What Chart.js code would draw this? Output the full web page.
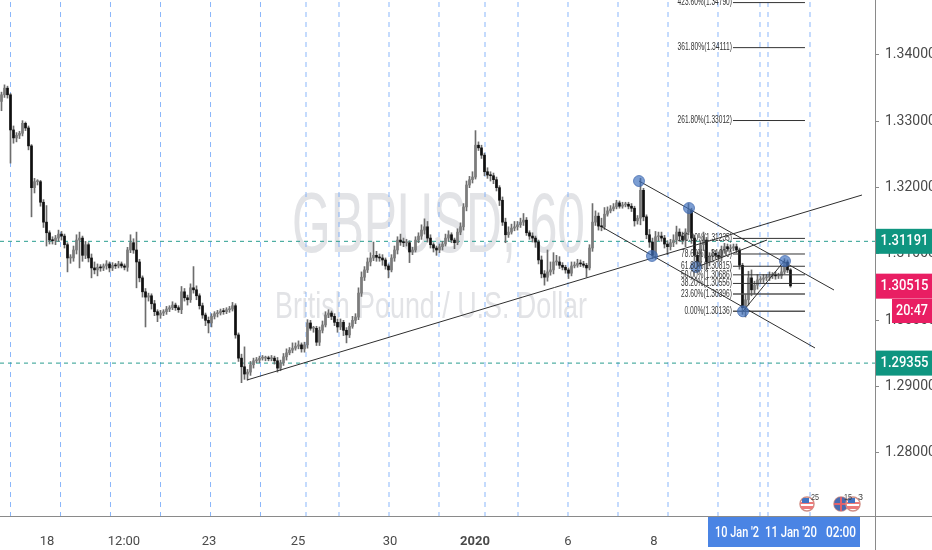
<!DOCTYPE html>
<html>
<head>
<meta charset="utf-8">
<title>GBPUSD, 60</title>
<script src="https://cdn.jsdelivr.net/npm/chart.js@4"></script>
<style>
  html, body { margin: 0; padding: 0; background: #fff; }
  canvas { display: block; }
</style>
</head>
<body>
<canvas id="chart" width="932" height="550"></canvas>
<script>
// Hourly closes
const closes = [
  1.3340,1.3350,1.3340,1.3287,1.3275,1.3279,1.3282,1.3297,1.3290,1.3263,
  1.3200,1.3209,1.3209,1.3178,1.3148,1.3132,1.3121,1.3120,1.3124,1.3130,
  1.3127,1.3114,1.3094,1.3094,1.3106,1.3121,1.3124,1.3098,1.3114,1.3094,
  1.3079,1.3076,1.3080,1.3079,1.3082,1.3085,1.3079,1.3083,1.3082,1.3085,
  1.3082,1.3080,1.3106,1.3117,1.3106,1.3088,1.3064,1.3043,1.3035,1.3037,
  1.3025,1.3013,1.3008,1.3011,1.3013,1.3017,1.3019,1.3023,1.3019,1.3016,
  1.3043,1.3034,1.3031,1.3049,1.3046,1.3037,1.3022,1.3008,1.3000,1.2996,
  1.3006,1.3010,1.3011,1.3014,1.3013,1.3016,1.3017,1.3022,1.2978,1.2943,
  1.2930,1.2919,1.2922,1.2933,1.2939,1.2940,1.2943,1.2943,1.2943,1.2942,
  1.2943,1.2939,1.2928,1.2936,1.2945,1.2951,1.2955,1.2958,1.2961,1.2963,
  1.2957,1.2963,1.2996,1.2988,1.2988,1.2967,1.2985,1.2993,1.3008,1.3011,
  1.3006,1.2997,1.2990,1.2997,1.2985,1.2978,1.2991,1.3000,1.3005,1.3041,
  1.3065,1.3076,1.3088,1.3094,1.3098,1.3095,1.3094,1.3091,1.3082,1.3076,
  1.3094,1.3106,1.3121,1.3118,1.3117,1.3117,1.3103,1.3106,1.3121,1.3127,
  1.3136,1.3141,1.3124,1.3114,1.3109,1.3106,1.3111,1.3115,1.3124,1.3129,
  1.3121,1.3117,1.3133,1.3141,1.3171,1.3204,1.3212,1.3216,1.3264,1.3260,
  1.3249,1.3224,1.3219,1.3218,1.3212,1.3200,1.3181,1.3148,1.3129,1.3133,
  1.3139,1.3141,1.3144,1.3148,1.3151,1.3132,1.3127,1.3124,1.3118,1.3091,
  1.3070,1.3065,1.3073,1.3076,1.3088,1.3088,1.3083,1.3080,1.3076,1.3071,
  1.3082,1.3083,1.3086,1.3085,1.3083,1.3079,1.3109,1.3148,1.3157,1.3142,
  1.3141,1.3160,1.3165,1.3168,1.3171,1.3177,1.3172,1.3174,1.3175,1.3172,
  1.3169,1.3150,1.3154,1.3196,1.3156,1.3129,1.3118,1.3098,1.3126,1.3127,
  1.3124,1.3115,1.3111,1.3117,1.3121,1.3133,1.3127,1.3121,1.3133,1.3166,
  1.3124,1.3098,1.3088,1.3114,1.3121,1.3088,1.3097,1.3101,1.3098,1.3095,
  1.3106,1.3111,1.3108,1.3109,1.3111,1.3106,1.3083,1.3019,1.3031,1.3064,
  1.3046,1.3053,1.3061,1.3062,1.3064,1.3065,1.3067,1.3068,1.3067,1.3067,
  1.3073,1.3088,1.3076,1.3052
];
// Wick lengths in pips above / below each body
const upperWicks = [
  4,5,3,2,6,4,3,4,2,3, 2,5,3,2,4,25,3,5,4,6, 4,3,3,5,6,8,9,3,5,3, 6,9,5,4,3,5,3,4,3,4,
  3,3,4,12,6,27,4,3,5,4, 3,5,3,4,3,4,3,5,3,3, 8,5,4,6,32,6,3,4,3,5, 4,3,4,3,4,3,4,5,3,3,
  6,30,4,5,4,4,3,4,3,3, 4,3,5,4,5,6,4,8,5,6, 3,4,5,4,3,3,5,6,5,5, 3,4,5,5,3,4,5,6,5,8,
  8,5,6,8,20,6,5,5,3,3, 5,6,5,9,6,5,3,4,5,5, 8,12,8,5,3,3,4,4,6,6, 3,3,5,6,5,6,5,8,22,5,
  4,3,6,5,4,4,3,5,6,8, 6,8,5,6,10,4,3,5,3,3, 6,5,33,12,14,10,8,4,3,3, 6,5,6,5,4,3,5,28,8,5,
  12,10,6,5,5,4,3,4,3,3, 4,3,4,18,3,3,8,6,8,6, 6,4,5,5,8,9,5,6,5,10, 3,4,5,6,12,4,5,6,4,5,
  6,5,4,5,4,4,3,3,8,10, 12,6,8,4,5,4,6,4,5,4, 8,5,3,2
];
const lowerWicks = [
  14,4,5,50,8,6,5,4,4,6, 44,8,5,6,8,20,6,5,6,5, 6,5,21,8,5,6,42,9,5,6, 15,6,9,5,4,5,6,4,4,3,
  3,4,6,4,5,39,6,8,45,6, 8,6,10,5,4,4,4,3,4,4, 6,5,8,4,5,6,5,5,8,15, 6,4,5,3,4,3,4,3,5,5,
  24,8,9,5,5,3,4,3,4,3, 3,5,6,4,4,5,3,4,3,4, 5,5,5,3,6,5,5,4,3,4, 5,5,8,4,8,12,4,3,5,4,
  5,5,4,6,4,6,5,8,5,12, 3,5,6,5,6,5,16,4,3,4, 5,6,6,5,6,8,4,5,3,5, 4,9,3,4,5,6,4,5,3,4,
  5,6,5,8,6,5,8,5,12,4, 3,4,5,4,5,4,5,6,8,6, 6,12,6,5,6,5,5,4,5,8, 4,3,3,4,3,14,3,5,5,6,
  6,4,3,3,3,3,3,3,3,4, 5,8,5,10,6,6,8,5,6,6, 5,6,12,5,6,6,8,6,10,4, 8,8,14,5,9,12,6,6,5,6,
  5,5,4,5,4,4,6,10,14,8, 9,6,6,4,5,4,5,4,5,4, 4,3,4,2
];

const priceTicks = [1.28, 1.29, 1.30, 1.31, 1.32, 1.33, 1.34];
const timeTicks = [15.17, 40.83, 69.17, 98.83, 129.5, 157.83, 188.83, 217.5];
const timeLabels = ['18', '12:00', '23', '25', '30', '2020', '6', '8'];

// Drawn objects on the chart, in bar index / price
const verticals = [3, 19.67, 36.33, 53, 69.67, 86.33, 101.5, 112.5, 129.17, 145.83, 161.17,
  172.17, 188.83, 205.5, 222.17, 238.83, 252.83, 255.5, 269.5];
const levels = [1.31191, 1.29355];
const trendLines = [
  [81.83, 1.2910, 286.83, 1.31889],
  [212.5, 1.3210, 277.5, 1.30457],
  [200.17, 1.31407, 271.17, 1.29583],
  [231.83, 1.30804, 255.17, 1.31211],
  [247.17, 1.30136, 261.17, 1.30909]
];
const anchorX = [212.5, 229.17, 216.83, 231.5, 247.17, 261.17];
const anchorY = [1.3210, 1.31693, 1.3097, 1.30804, 1.30136, 1.30894];
const fibStart = 243.83;
const fibEnd = 267.83;
const fibPrices = [1.3479, 1.34111, 1.33012, 1.31235, 1.31, 1.30815, 1.30686, 1.30556, 1.30396, 1.30136];
const fibLabels = ['423.60%(1.34790)', '361.80%(1.34111)', '261.80%(1.33012)', '100.00%(1.31235)',
  '78.60%(1.31000)', '61.80%(1.30815)', '50.00%(1.30686)', '38.20%(1.30556)', '23.60%(1.30396)', '0.00%(1.30136)'];

const yMin = 1.27035;
const yMax = 1.34829;
const xMin = -0.5;
const xMax = 291.17;

const opens = closes.map((c, i) => i === 0 ? 1.3330 : closes[i - 1]);

function lineSet(points, color, width, dash, order) {
  return {
    type: 'line', data: points, borderColor: color, borderWidth: width, borderDash: dash,
    pointRadius: 0, fill: false, tension: 0, order: order
  };
}

function noPadding(s) {
  s.paddingTop = 0;
  s.paddingBottom = 0;
  s.paddingLeft = 0;
  s.paddingRight = 0;
}

const datasets = [
  {
    type: 'bar', grouped: false, barThickness: 1, order: 11,
    backgroundColor: '#6d6d6d',
    data: closes.map((c, i) => ({
      x: i,
      y: [Math.min(opens[i], c) - lowerWicks[i] / 10000, Math.max(opens[i], c) + upperWicks[i] / 10000]
    }))
  },
  {
    type: 'bar', grouped: false, barThickness: 2, order: 10, minBarLength: 1,
    backgroundColor: closes.map((c, i) => c >= opens[i] ? '#7c7c7c' : '#101010'),
    data: closes.map((c, i) => ({ x: i, y: [opens[i], c] }))
  },
  {
    type: 'line', showLine: false, order: 1, pointRadius: 5.5,
    backgroundColor: 'rgba(62,112,190,0.68)', borderColor: 'rgba(60,100,170,0.7)', borderWidth: 1,
    data: anchorX.map((x, i) => ({ x: x, y: anchorY[i] }))
  }
];
verticals.forEach(x => datasets.push(lineSet([{ x: x, y: yMin }, { x: x, y: yMax }], 'rgba(110,165,250,0.8)', 1, [5, 5], 20)));
levels.forEach(y => datasets.push(lineSet([{ x: xMin, y: y }, { x: xMax, y: y }], '#2a9d8f', 1, [4, 4], 15)));
trendLines.forEach(t => datasets.push(lineSet([{ x: t[0], y: t[1] }, { x: t[2], y: t[3] }], '#2e2e2e', 1, [], 5)));
fibPrices.forEach((y, i) => datasets.push(lineSet([{ x: fibStart, y: y }, { x: fibEnd, y: y }], i >= 8 ? '#555' : '#333', i >= 8 ? 1.6 : 1, [], 6)));

// Symbol name behind the candles
const watermark = {
  id: 'watermark',
  beforeDatasetsDraw(chart) {
    const c = chart.ctx;
    c.save();
    c.fillStyle = '#e2e3e6';
    c.textBaseline = 'alphabetic';
    c.textAlign = 'left';
    c.font = '86px "Liberation Sans"';
    c.fillText('GBPUSD, 60', 292, 252, 293);
    c.font = '36px "Liberation Sans"';
    c.fillText('British Pound / U.S. Dollar', 275, 318, 312);
    c.restore();
  }
};

function drawFlag(c, x, y, uk) {
  c.save();
  c.beginPath();
  c.arc(x, y, 7, 0, Math.PI * 2);
  c.fillStyle = '#fff';
  c.fill();
  c.strokeStyle = '#cf8f86';
  c.lineWidth = 1.5;
  c.stroke();
  c.clip();
  if (uk) {
    c.fillStyle = '#4a6bb0';
    c.fillRect(x - 7, y - 7, 14, 14);
    c.fillStyle = '#e0606a';
    c.fillRect(x - 7, y - 1, 14, 2);
    c.fillRect(x - 1, y - 7, 2, 14);
  } else {
    c.fillStyle = '#ec7a7a';
    c.fillRect(x - 7, y - 2, 14, 2);
    c.fillRect(x - 7, y + 2, 14, 3);
    c.fillStyle = '#3f74c4';
    c.fillRect(x - 5, y - 6, 7, 5);
  }
  c.restore();
}

// Fibonacci captions, event flags
const annotations = {
  id: 'annotations',
  afterDatasetsDraw(chart) {
    const c = chart.ctx;
    const xs = chart.scales.x;
    const ys = chart.scales.y;
    c.save();
    c.fillStyle = '#333';
    c.font = '10px "Liberation Sans"';
    c.textAlign = 'right';
    c.textBaseline = 'middle';
    fibLabels.forEach((t, i) => {
      const w = t.length * 3.4;
      c.fillText(t, xs.getPixelForValue(fibStart) - 1, ys.getPixelForValue(fibPrices[i]), w);
    });
    drawFlag(c, 807, 504, false);
    drawFlag(c, 841, 504, true);
    drawFlag(c, 853, 504, false);
    c.fillStyle = '#444';
    c.font = '9px "Liberation Sans"';
    c.textAlign = 'left';
    c.fillText('25', 811, 498, 8);
    c.fillText('15', 844, 498, 8);
    c.fillText('3', 858, 498, 6);
    c.restore();
  }
};

// Price tags on the axis and the crosshair date box
const tags = {
  id: 'tags',
  afterDraw(chart) {
    const c = chart.ctx;
    const a = chart.chartArea;
    const ys = chart.scales.y;
    c.save();
    c.strokeStyle = '#8a8a8a';
    c.lineWidth = 1;
    c.beginPath();
    c.moveTo(0, a.bottom - 0.5);
    c.lineTo(chart.width, a.bottom - 0.5);
    c.moveTo(a.right + 0.5, 0);
    c.lineTo(a.right + 0.5, chart.height);
    c.stroke();
    c.font = '500 14px Roboto';
    c.textBaseline = 'middle';
    c.textAlign = 'center';
    [[1.31191, '#0f9580'], [1.30515, '#e91e63'], [1.29355, '#0f9580']].forEach(p => {
      const y = ys.getPixelForValue(p[0]);
      c.fillStyle = p[1];
      c.fillRect(a.right + 1, y - 12.5, chart.width - a.right - 1, 25);
      c.fillStyle = '#fff';
      c.fillText(p[0].toFixed(5), (a.right + chart.width) / 2 + 1, y + 0.5, 48);
    });
    c.fillStyle = '#e91e63';
    c.fillRect(892, 299, 40, 24);
    c.fillStyle = '#fff';
    c.fillText('20:47', 912, 311.5, 32);
    c.fillStyle = '#4a84e4';
    c.fillRect(708, a.bottom, 152, 30);
    c.fillStyle = '#fff';
    c.textAlign = 'left';
    c.fillText("10 Jan '2", 715, a.bottom + 16, 44);
    c.fillText("11 Jan '20", 765, a.bottom + 16, 52);
    c.fillText('02:00', 826, a.bottom + 16, 30);
    c.restore();
  }
};

new Chart(document.getElementById('chart').getContext('2d'), {
  type: 'bar',
  data: { datasets: datasets },
  plugins: [watermark, annotations, tags],
  options: {
    responsive: false,
    animation: false,
    events: [],
    layout: { padding: 0, autoPadding: false },
    plugins: { legend: { display: false }, title: { display: false }, tooltip: { enabled: false } },
    scales: {
      x: {
        type: 'linear', position: 'bottom', min: xMin, max: xMax, offset: false,
        grid: { display: false, offset: false },
        border: { display: false },
        afterFit(s) { s.height = 33; noPadding(s); },
        afterBuildTicks(s) { s.ticks = timeTicks.map(v => ({ value: v })); },
        ticks: {
          maxRotation: 0, autoSkip: false, padding: 9, color: '#4a4a4a',
          font: c => ({ family: 'Roboto', size: 13, weight: c.index === 5 ? '700' : '400' }),
          callback: (v, i) => timeLabels[i]
        }
      },
      y: {
        type: 'linear', position: 'right', min: yMin, max: yMax,
        grid: { drawOnChartArea: false, drawTicks: true, tickLength: 4, color: '#8a8a8a' },
        border: { display: false },
        afterFit(s) { s.width = 57; noPadding(s); },
        afterBuildTicks(s) { s.ticks = priceTicks.map(v => ({ value: v })); },
        ticks: {
          padding: 6, color: '#4a4a4a', font: { family: 'Roboto', size: 14 },
          callback: v => v.toFixed(5)
        }
      }
    }
  }
});
</script>
</body>
</html>
